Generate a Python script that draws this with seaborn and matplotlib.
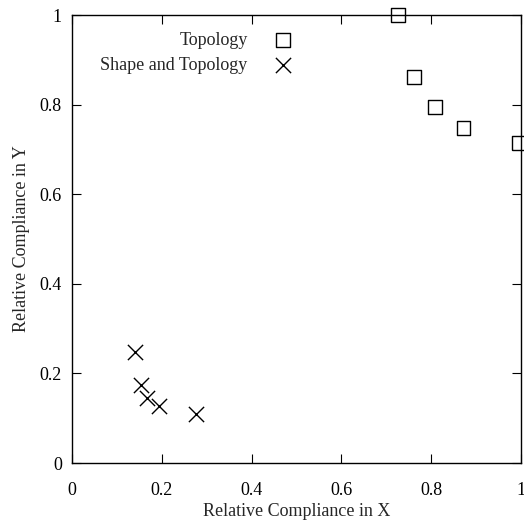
import matplotlib
matplotlib.use("Agg")
import matplotlib.pyplot as plt
import seaborn as sns
import pandas as pd

topo_x = [0.727, 0.762, 0.808, 0.872, 0.995]
topo_y = [1.000, 0.862, 0.795, 0.747, 0.714]
shape_x = [0.140, 0.153, 0.168, 0.194, 0.276]
shape_y = [0.248, 0.174, 0.146, 0.127, 0.109]
ticks = [0, 0.2, 0.4, 0.6, 0.8, 1]
tick_labels = ["0", "0.2", "0.4", "0.6", "0.8", "1"]

sns.set_theme(style="ticks")
plt.rcParams["font.family"] = ["Liberation Serif", "DejaVu Serif"]
plt.rcParams["font.size"] = 13

df_t = pd.DataFrame({"x": topo_x, "y": topo_y})
df_s = pd.DataFrame({"x": shape_x, "y": shape_y})

fig = plt.figure(figsize=(5.24, 5.27), dpi=100)
ax = fig.add_axes([72/524, 64/527, 449/524, 448/527])

sns.scatterplot(data=df_t, x="x", y="y", ax=ax, marker="s", s=100,
                facecolor="none", edgecolor="black", linewidth=1.0,
                label="Topology", clip_on=False, zorder=3)
sns.scatterplot(data=df_s, x="x", y="y", ax=ax, marker="x", s=120,
                color="black", linewidth=1.0,
                label="Shape and Topology", clip_on=False, zorder=3)

ax.set_xlim(0, 1)
ax.set_ylim(0, 1)
ax.set_xticks(ticks)
ax.set_xticklabels(tick_labels)
ax.set_yticks(ticks)
ax.set_yticklabels(tick_labels)
ax.tick_params(direction="in", length=6.5, width=0.8, top=True, right=True,
               labelsize=13, colors="black")
ax.tick_params(axis="x", pad=13.5)
ax.tick_params(axis="y", pad=7.2)
for sp in ax.spines.values():
    sp.set_visible(True)
    sp.set_linewidth(1.0)
    sp.set_color("black")
ax.set_xlabel("Relative Compliance in X", fontsize=13, labelpad=3)
ax.set_ylabel("Relative Compliance in Y", fontsize=13, labelpad=7)

leg = ax.legend(loc="upper right", bbox_to_anchor=(0.510, 0.963), frameon=False,
                markerfirst=False, fontsize=13, handletextpad=0.95,
                labelspacing=0.45, borderaxespad=0, borderpad=0)

fig.savefig("out.png", dpi=100)
